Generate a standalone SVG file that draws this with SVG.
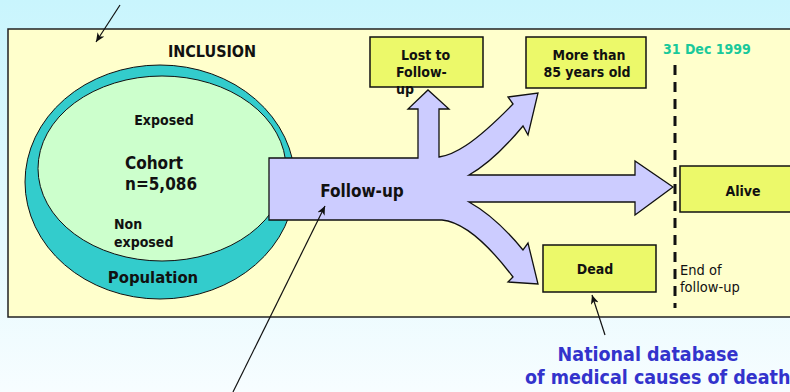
<svg xmlns="http://www.w3.org/2000/svg" width="790" height="392" viewBox="0 0 790 392">
<defs>
<linearGradient id="bg" x1="0" y1="0" x2="0" y2="1">
<stop offset="0" stop-color="#c9f5fd"/>
<stop offset="1" stop-color="#f7fdff"/>
</linearGradient>
<marker id="ah" markerWidth="10" markerHeight="8" refX="9" refY="4" orient="auto" markerUnits="userSpaceOnUse">
<path d="M0,0 L9,4 L0,8 L2.5,4 Z" fill="#111"/>
</marker>
<style>
text{font-family:"DejaVu Sans Condensed","DejaVu Sans",sans-serif;font-stretch:condensed;fill:#111}
.b{font-weight:bold}
.box{fill:#ecf96a;stroke:#111;stroke-width:1.5}
.conn{stroke:#111;stroke-width:1.2;fill:none;marker-end:url(#ah)}
</style>
</defs>
<rect width="790" height="392" fill="url(#bg)"/>
<g id="frame">
<rect x="8" y="29" width="800" height="288" fill="#ffffcc" stroke="#222" stroke-width="1.5"/>
</g>
<g id="inclusion">
<text class="b" x="212" y="57" font-size="16" text-anchor="middle">INCLUSION</text>
</g>
<g id="population">
<ellipse cx="160" cy="182" rx="135" ry="117" fill="#33cccc" stroke="#111" stroke-width="1"/>
<text class="b" x="153" y="283" font-size="16.5" text-anchor="middle">Population</text>
</g>
<g id="cohort">
<ellipse cx="162" cy="168.5" rx="124" ry="92.5" fill="#ccffcc" stroke="#111" stroke-width="1"/>
<text class="b" x="164" y="125" font-size="14" text-anchor="middle">Exposed</text>
<text class="b" x="125" y="169" font-size="17">Cohort</text>
<text class="b" x="125" y="190" font-size="17">n=5,086</text>
<text class="b" x="114" y="229" font-size="14">Non</text>
<text class="b" x="114" y="247" font-size="14">exposed</text>
</g>
<g id="followup">
<path d="M269,158 L418,158 L418,109 L408,109 L428,90 L449,109 L439,109 L439,157 C453,155 472,146 513,104 L508,97 L538,93 L528,135 L523,126 C503,150 487,165 469,175 L635,175 L635,161 L673,187 L635,215 L635,202 L469,202 C487,212 505,228 523,250 L528,243 L538,284 L508,282 L513,277 C488,244 463,222 442,220 L269,220 Z" fill="#ccccff" stroke="#111" stroke-width="1.3" stroke-linejoin="miter"/>
<text class="b" x="362" y="197" font-size="17" text-anchor="middle">Follow-up</text>
</g>
<g id="lost">
<rect class="box" x="370" y="37" width="113" height="50"/>
<text class="b" x="401" y="60" font-size="14">Lost to</text>
<text class="b" x="396" y="77" font-size="14">Follow-</text>
<text class="b" x="396" y="94" font-size="14">up</text>
</g>
<g id="older">
<rect class="box" x="526" y="37" width="120" height="51"/>
<text class="b" x="589" y="60" font-size="14" text-anchor="middle">More than</text>
<text class="b" x="587" y="77" font-size="14" text-anchor="middle">85 years old</text>
</g>
<g id="date">
<text class="b" x="663" y="54" font-size="14" style="fill:#19c99a">31 Dec 1999</text>
<line x1="675" y1="65" x2="675" y2="308" stroke="#111" stroke-width="3" stroke-dasharray="10 7"/>
</g>
<g id="alive">
<rect class="box" x="680" y="166" width="130" height="46"/>
<text class="b" x="743" y="196" font-size="14" text-anchor="middle">Alive</text>
</g>
<g id="dead">
<rect class="box" x="543" y="245" width="113" height="47"/>
<text class="b" x="595" y="274" font-size="14" text-anchor="middle">Dead</text>
</g>
<g id="endfollow">
<text x="680" y="275" font-size="14.5">End of</text>
<text x="680" y="292" font-size="14.5">follow-up</text>
</g>
<g id="database">
<text class="b" x="648" y="361" font-size="19.5" text-anchor="middle" style="fill:#3333cc">National database</text>
<text class="b" x="525" y="384" font-size="19.5" style="fill:#3333cc">of medical causes of death</text>
</g>
<g id="connectors">
<line class="conn" x1="120" y1="5" x2="96" y2="42"/>
<line class="conn" x1="233" y1="392" x2="325" y2="206"/>
<line class="conn" x1="605" y1="335" x2="592" y2="295"/>
</g>
</svg>
